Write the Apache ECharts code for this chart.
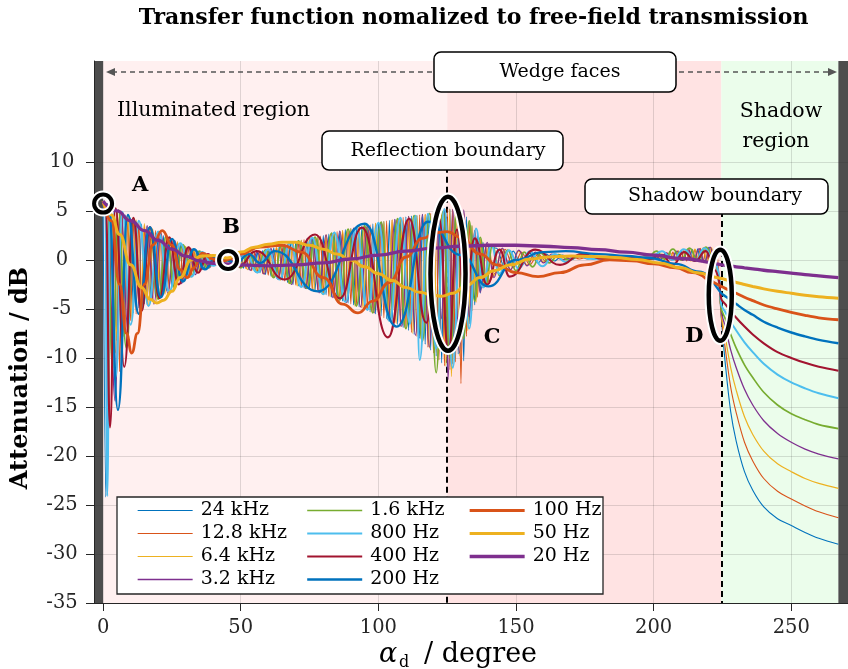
<!DOCTYPE html>
<html>
<head>
<meta charset="utf-8">
<script src="https://cdn.jsdelivr.net/npm/echarts@6.0.0/dist/echarts.min.js"></script>
<style>
html,body{margin:0;padding:0;background:#ffffff;}
#chart{width:848px;height:669px;}
</style>
</head>
<body>
<div id="chart"></div>
<script>
// ---------------- DATA ----------------
const seriesNames = ['24 kHz','12.8 kHz','6.4 kHz','3.2 kHz','1.6 kHz','800 Hz','400 Hz','200 Hz','100 Hz','50 Hz','20 Hz'];
const seriesColors = ['#0072BD','#D95319','#EDB120','#7E2F8E','#77AC30','#4DBEEE','#A2142F','#0072BD','#D95319','#EDB120','#7E2F8E'];
const lineWidths = [1.1,1.1,1.2,1.3,1.7,2.0,2.1,2.4,2.8,3.0,3.3];

const xTicks = [0,50,100,150,200,250];
const yTicks = [-35,-30,-25,-20,-15,-10,-5,0,5,10];

// region limits (degree)
const xMin = -3.3, xMax = 270.6;
const reflectionBoundary = 125;
const shadowBoundary = 224.6;
const wedgeFaceEnd = 267.1;

// shared angle grid for the two fastest-oscillating curves
const angDense = [0,1,2,3,4,5,6,7,8,9,10,11,12,13,14,15,16,17,18,19,20,21,22,23,24,25,26,27,28,29,
30,31,32,33,34,35,36,37,38,39,40,41,42,43,44,45,46,47,48,49,50,51,52,53,54,55,56,57,58,59,
60,61,62,63,64,65,66,67,68,69,70,71,72,73,74,75,76,77,78,79,80,81,82,83,84,85,86,87,88,89,
90,91,92,93,94,95,96,97,98,99,100,101,102,103,104,105,106,107,108,109,110,111,112,113,114,115,116,117,118,119,
120,121,122,123,124,125,126,127,128,129,130,131,132,133,134,135,136,137,138,139,140,
143,146,149,152,155,158,161,164,167,170,173,176,179,182,185,188,191,194,197,
200,201,202,203,204,205,206,207,208,209,210,211,212,213,214,215,216,217,218,219,220,221,222,223,224];

const v24k = [5.9,-24.2,5.6,-9.5,5.3,-8.2,4.9,-7.0,4.6,-6.1,
4.3,-5.4,4.0,-4.9,3.7,-4.5,3.4,-4.1,3.1,-3.8,
2.8,-3.4,2.5,-3.1,2.2,-2.7,1.9,-2.3,1.6,-2.0,
1.35,-1.7,1.15,-1.4,0.95,-1.15,0.75,-0.9,0.55,-0.65,
0.38,-0.45,0.28,-0.28,0.1,-0.05,0.1,-0.3,0.28,-0.6,
0.48,-0.85,0.6,-1.0,0.72,-1.15,0.84,-1.3,0.95,-1.5,
1.08,-1.65,1.25,-1.85,1.42,-2.05,1.55,-2.3,1.75,-2.5,
1.88,-2.65,2.0,-2.85,2.15,-2.95,2.25,-3.15,2.38,-3.35,
2.5,-3.55,2.65,-3.8,2.85,-3.95,2.95,-4.2,3.1,-4.4,
3.2,-4.6,3.3,-4.8,3.45,-5.0,3.55,-5.3,3.7,-5.5,
3.8,-5.7,3.95,-6.0,4.05,-6.3,4.15,-6.6,4.3,-6.9,
4.4,-7.2,4.5,-7.6,4.55,-8.0,4.65,-8.6,4.7,-9.2,
4.8,-9.8,4.95,-10.5,5.1,-11.0,5.2,-10.6,5.1,-9.6,
5.0,-10.3,4.4,-6.5,3.5,-4.6,2.5,-3.4,1.8,-2.5,1.4,
1.2,-1.0,0.9,-0.6,0.7,-0.3,0.6,-0.1,0.5,0.0,0.4,0.1,0.3,0.15,0.25,0.15,0.25,0.15,0.3,
0.45,0.1,0.55,0.1,0.65,0.05,0.75,0.05,0.85,0.0,0.95,0.0,1.0,-0.05,1.1,-0.1,1.15,-0.15,1.25,-0.2,1.3,-0.4,1.1,-1.5,-3.5];

const v12k8 = [5.9,5.7,-16,5.4,-10,5.1,-11.4,4.8,-7.0,4.5,
-6.2,4.2,-5.5,3.9,-5.0,3.6,-4.6,3.3,-4.2,3.0,
-3.8,2.7,-3.4,2.4,-3.0,2.1,-2.6,1.8,-2.2,1.5,
-1.9,1.25,-1.6,1.05,-1.3,0.85,-1.0,0.65,-0.75,0.45,
-0.55,0.3,-0.35,0.18,-0.15,0.02,-0.15,0.18,-0.45,0.38,
-0.75,0.52,-0.9,0.65,-1.1,0.78,-1.25,0.9,-1.4,1.0,
-1.55,1.15,-1.75,1.3,-1.95,1.48,-2.15,1.62,-2.4,1.8,
-2.55,1.95,-2.75,2.08,-2.9,2.2,-3.05,2.3,-3.25,2.45,
-3.45,2.55,-3.7,2.75,-3.9,2.9,-4.1,3.0,-4.3,3.15,
-4.5,3.25,-4.7,3.4,-4.9,3.5,-5.1,3.6,-5.4,3.75,
-5.6,3.85,-5.9,4.0,-6.2,4.1,-6.4,4.2,-6.8,4.35,
-7.0,4.45,-7.4,4.5,-7.8,4.6,-8.3,4.65,-8.9,4.75,
-9.5,4.9,-10.2,5.0,-10.8,5.2,-11.2,5.15,-10.4,5.05,
-12.6,4.7,-7.8,4.0,-5.2,3.0,-3.8,2.1,-2.8,1.6,-2.2,
-1.2,1.1,-0.8,0.8,-0.5,0.6,-0.2,0.5,0.0,0.4,0.1,0.3,0.15,0.25,0.15,0.25,0.15,0.25,0.1,
0.05,0.5,0.05,0.6,0.0,0.7,0.0,0.8,-0.05,0.9,-0.05,0.95,-0.1,1.05,-0.1,1.1,-0.15,1.2,-0.2,1.25,-0.3,1.2,-0.6,0.6,-3.0];

// [angle, dB] pairs
const s6k4 = [[0,5.9],[0.8,5.7],[1.8,-18.6],[3,5.4],[4.5,-9.5],[6,5.0],[7.5,-7.8],[9,4.6],[10.5,-6.3],[12,4.1],[13.5,-5.3],[15,3.7],[16.5,-4.7],[18,3.2],[19.5,-4.2],[21,2.75],[22.5,-3.5],[24,2.3],[25.5,-2.9],[27,1.85],[28.5,-2.3],[30,1.4],[31.5,-1.8],[33,1.1],[34.5,-1.3],[36,0.8],[37.5,-0.9],[39,0.5],[40.5,-0.55],[42,0.3],[43.5,-0.25],[45,0.05],[46.5,-0.3],[48,0.3],[49.5,-0.7],[51,0.55],[52.5,-1.0],[54,0.7],[55.5,-1.2],[57,0.9],[58.5,-1.45],[60,1.1],[61.5,-1.75],[63,1.3],[64.5,-2.05],[66,1.55],[67.5,-2.4],[69,1.8],[70.5,-2.65],[72,2.0],[73.5,-2.9],[75,2.2],[76.5,-3.2],[78,2.35],[79.5,-3.45],[81,2.55],[82.5,-3.75],[84,2.8],[85.5,-4.0],[87,3.0],[88.5,-4.35],[90,3.2],[91.5,-4.7],[93,3.4],[94.5,-4.95],[96,3.55],[97.5,-5.3],[99,3.75],[100.5,-5.65],[102,3.95],[103.5,-6.1],[105,4.1],[106.5,-6.5],[108,4.3],[109.5,-6.9],[111,4.45],[112.5,-7.5],[114,4.55],[115.5,-8.1],[117,4.65],[118.5,-9.0],[120,4.8],[121.5,-9.9],[123,5.0],[124.5,-10.8],[126,5.2],[126.5,-11.9],[128,5.1],[129.5,-9.8],[131,4.7],[132.5,-7.2],[134,3.5],[135.5,-4.3],[137,2.1],[138.5,-2.8],[140,1.4],[142,-1.6],[145,1.1],[148,-1.0],[151,0.9],[154,-0.5],[157,0.7],[160,-0.2],[164,0.5],[168,0.0],[173,0.35],[180,0.2],[190,0.25],[198,0.2],[200,0.5],[201.5,0.05],[203,0.6],[204.5,0.05],[206,0.75],[207.5,0.0],[209,0.9],[210.5,-0.05],[212,1.0],[213.5,-0.1],[215,1.1],[216.5,-0.15],[218,1.2],[219.5,-0.25],[221,1.25],[222.5,-0.8],[224,-2.8]];

const s3k2 = [[0,6.0],[1.5,5.6],[4.4,-14.4],[6.5,5.0],[9,-7.2],[11,4.3],[13.5,-5.5],[16,3.5],[18.5,-4.5],[21,2.75],[23.5,-3.4],[26,2.0],[28.5,-2.4],[31,1.3],[33.5,-1.5],[36,0.8],[38.5,-0.8],[41,0.35],[43.5,-0.25],[46,0.1],[48.5,-0.55],[51,0.55],[53.5,-1.05],[56,0.85],[58.5,-1.45],[61,1.15],[63.5,-1.95],[66,1.55],[68.5,-2.5],[71,1.95],[73.5,-2.9],[76,2.25],[78.5,-3.35],[81,2.55],[83.5,-3.85],[86,2.95],[88.5,-4.35],[91,3.25],[93.5,-4.8],[96,3.55],[98.5,-5.4],[101,3.85],[103.5,-6.1],[106,4.15],[108.5,-6.8],[111,4.45],[113.5,-7.7],[116,4.65],[118.5,-8.9],[121,4.9],[123,-6.0],[124.3,5.1],[125.3,-12.2],[127,5.15],[129.5,-9.5],[131,5.1],[133,-5.8],[135,3.0],[137,-3.3],[139.5,1.8],[142,-1.8],[145,1.2],[148,-1.0],[151,1.0],[154,-0.6],[157,0.8],[160,-0.3],[163,0.6],[167,0.0],[172,0.35],[180,0.2],[190,0.2],[198,0.25],[200.5,0.6],[202.5,0.05],[204.5,0.75],[206.5,0.0],[208.5,0.9],[210.5,-0.05],[212.5,1.05],[214.5,-0.1],[216.5,1.15],[218.5,-0.2],[220.5,1.3],[222.5,-0.5],[224,-2.5]];

const s1k6 = [[0,6.0],[1.5,5.7],[3.5,-11],[5.5,5.1],[8.5,-9.0],[11,4.3],[14,-5.1],[17,3.35],[20,-4.0],[23,2.45],[26,-2.8],[29,1.55],[32,-1.7],[35,0.9],[38,-0.8],[41,0.35],[44,-0.2],[47,0.2],[50,-0.8],[53,0.68],[56,-1.28],[59,1.04],[62,-1.8],[65,1.5],[68,-2.4],[71,1.96],[74,-2.9],[77,2.32],[80,-3.5],[83,2.75],[86,-4.1],[89,3.15],[92,-4.7],[95,3.5],[98,-5.4],[101,3.86],[104,-6.2],[107,4.22],[110,-7.0],[113,4.52],[116,-8.3],[118.5,4.75],[121,-11.5],[123.5,5.0],[126,-10],[128.5,5.1],[131,-8],[133,4.0],[135,-4.2],[137,2.3],[139,-2.6],[141.5,1.5],[144,-1.6],[147,1.0],[150,-1.1],[153,0.8],[156,-0.7],[159,0.7],[162,-0.3],[165.5,0.55],[169,0.0],[173,0.4],[178,0.2],[185,0.3],[192,0.2],[198,0.3],[201,0.9],[204,0.1],[207,1.1],[210,0.0],[213,1.2],[216,0.0],[219,1.3],[222,-0.3],[224,-2.2]];

const s800 = [[0,6.0],[0.8,5.5],[1.5,-24.1],[2.5,5.5],[4.5,-12],[7,4.9],[10,-6.6],[13,4.0],[16.5,-4.7],[20,2.9],[24,-3.2],[28,1.7],[32,-1.7],[36,0.8],[40,-0.6],[44,0.1],[48,-0.5],[52,0.62],[56,-1.28],[60,1.1],[64,-2.0],[68,1.74],[72,-2.75],[76,2.26],[80,-3.5],[84,2.8],[88,-4.3],[92,3.3],[96,-5.1],[100,3.8],[104,-6.2],[108,4.3],[111.5,-6.5],[113.5,4.5],[115,-10.2],[118,4.7],[121,-9],[124,5.2],[127,-11],[130,4.9],[133,-7.0],[135.5,3.2],[138,-2.8],[141,1.5],[144,-1.4],[147.5,1.0],[151,-0.9],[155,0.9],[159.5,-0.65],[164,0.6],[168,-0.2],[172,0.4],[178,0.1],[186,0.3],[194,0.1],[199,0.3],[203,0.9],[207,0.0],[211,1.1],[215,-0.1],[218.5,1.2],[221.5,0.2],[224,-2.0]];

const s400 = [[0,6.0],[1,5.5],[2.5,-17.1],[4.5,5.3],[7.7,-10.9],[11,4.3],[14,-5.2],[17,3.35],[20.5,-3.9],[24,2.3],[27.5,-2.5],[31,1.3],[34.5,-1.3],[38,0.6],[41.5,-0.45],[45,0.0],[49,-0.7],[55.7,0.9],[66,-2.0],[77,2.6],[86,-3.9],[94,3.3],[103.5,-7.9],[111.2,4.2],[117.4,-6.4],[122,4.3],[125.5,-9.5],[128.5,3.1],[131.5,-4.5],[135,2.2],[139.5,-2.5],[144,1.05],[147.7,-1.7],[157,1.05],[166,-0.5],[174,0.6],[182,0.1],[190,0.3],[198,0.1],[203,0.5],[207,-0.5],[211,0.8],[215,-0.1],[219,0.9],[222,-1.0],[224,-2.5]];

const s200 = [[0,6.0],[2,5.6],[5.4,-15.3],[9,4.6],[13,-5.5],[17,3.35],[21,-3.8],[25,2.15],[29,-2.2],[33,1.1],[37,-0.95],[41,0.35],[45,0.0],[48,-0.4],[53,0.6],[57,-0.3],[62.4,0.9],[78,-3.2],[95,3.7],[106.6,-6.8],[118,3.9],[130,0.5],[140,-2.7],[150,0.0],[160,0.8],[168,0.9],[180,0.6],[190,0.4],[198.5,0.2],[208,-0.4],[216.6,-1.2],[221,-2.0]];

const s100 = [[0,6.0],[3,4.0],[6,-2.5],[8.5,-7.5],[10.4,-9.5],[12.5,-7.5],[15,-2.5],[18,1.5],[21.5,3.0],[25,1.5],[28,-1.0],[30.5,-1.8],[33,-0.8],[36,0.7],[40,0.1],[43,-0.2],[45,0.0],[50,0.6],[57,1.3],[65,1.5],[72,0.8],[80,-1.8],[87,-4.5],[92.6,-5.4],[98,-4.2],[104,-2.3],[110,0.3],[116,2.2],[121,2.8],[125,2.9],[130,2.3],[137,0.6],[143,-0.5],[150,-1.3],[158,-1.7],[166,-1.3],[175,-0.5],[184,0.0],[192,-0.1],[200,-0.4],[208,-0.8],[214,-1.3],[219,-1.9]];

const s50 = [[0,6.0],[3,4.6],[6,2.6],[10,-0.5],[14,-2.8],[17,-4.0],[19.5,-4.4],[22,-4.1],[25,-3.2],[28,-1.8],[32,0.0],[36,0.4],[40,0.45],[45,0.2],[50,0.8],[55,1.3],[60,1.6],[65,1.8],[70,1.8],[75,1.5],[80,1.1],[85,0.6],[90,0.0],[95,-0.7],[100,-1.4],[105,-2.1],[110,-2.8],[115,-3.3],[120,-3.6],[123,-3.7],[127,-3.4],[132,-2.6],[137,-1.8],[142,-1.1],[148,-0.5],[155,0.1],[162,0.3],[170,0.4],[178,0.35],[186,0.25],[194,0.05],[202,-0.3],[210,-0.8],[216,-1.3],[220,-1.6]];

const s20 = [[0,6.0],[5,5.0],[10,4.0],[15,3.0],[20,2.0],[25,1.1],[30,0.4],[35,-0.1],[40,-0.35],[45,-0.4],[50,-0.5],[60,-0.6],[70,-0.5],[80,-0.3],[90,0.1],[100,0.5],[110,0.9],[120,1.2],[130,1.4],[140,1.5],[150,1.5],[160,1.4],[170,1.25],[180,1.05],[190,0.8],[200,0.5],[210,0.15],[218,-0.15]];

// shadow region (angles shared, one value list per frequency)
const angShadow = [224.6,226,228,230,233,236,240,245,250,255,260,267.1];
const sh24k  = [-6.0,-10.5,-15.5,-18.5,-21.6,-23.5,-25.2,-26.4,-27.1,-27.8,-28.4,-29.0];
const sh12k8 = [-5.8,-9.0,-13.0,-15.6,-18.6,-20.5,-22.3,-23.6,-24.4,-25.1,-25.7,-26.3];
const sh6k4  = [-5.6,-7.8,-11.0,-13.3,-16.0,-17.8,-19.5,-20.8,-21.6,-22.3,-22.8,-23.3];
const sh3k2  = [-5.3,-6.8,-9.2,-11.0,-13.2,-14.8,-16.4,-17.7,-18.6,-19.3,-19.8,-20.3];
const sh1k6  = [-5.0,-6.0,-7.6,-9.0,-10.7,-12.0,-13.5,-14.8,-15.7,-16.3,-16.8,-17.2];
const sh800  = [-4.6,-5.3,-6.3,-7.2,-8.4,-9.4,-10.6,-11.7,-12.5,-13.1,-13.6,-14.1];
const sh400  = [-4.0,-4.5,-5.2,-5.9,-6.8,-7.6,-8.5,-9.4,-10.0,-10.5,-10.9,-11.3];
const sh200  = [-3.4,-3.7,-4.1,-4.5,-5.1,-5.6,-6.3,-6.9,-7.4,-7.8,-8.15,-8.5];
const sh100  = [-2.7,-2.9,-3.15,-3.4,-3.8,-4.15,-4.6,-5.0,-5.35,-5.65,-5.9,-6.1];
const sh50   = [-1.9,-2.0,-2.15,-2.3,-2.5,-2.7,-2.95,-3.2,-3.4,-3.6,-3.75,-3.9];
const sh20   = [-0.5,-0.55,-0.62,-0.7,-0.8,-0.9,-1.05,-1.2,-1.35,-1.5,-1.62,-1.8];

// annotated points (data coordinates)
const ptA = [0, 5.75], ptB = [45.4, 0.0], ptC = [125.3, -1.4], ptD = [224.2, -3.6];

// ---------------- BUILD ----------------
function zip(a, v) { const n = Math.min(a.length, v.length); const o = []; for (let i = 0; i < n; i++) o.push([a[i], v[i]]); return o; }
const mainParts = [zip(angDense, v24k), zip(angDense, v12k8), s6k4, s3k2, s1k6, s800, s400, s200, s100, s50, s20];
const shadowParts = [sh24k, sh12k8, sh6k4, sh3k2, sh1k6, sh800, sh400, sh200, sh100, sh50, sh20];

const FONT = '"DejaVu Serif"';
const series = [];
seriesNames.forEach((name, i) => {
  const main = mainParts[i];
  const common = {
    type: 'line', name, symbol: 'none', showSymbol: false,
    lineStyle: { color: seriesColors[i], width: lineWidths[i] },
    itemStyle: { color: seriesColors[i] }, z: 2, silent: true, animation: false
  };
  series.push(Object.assign({}, common, { data: main, smooth: i < 2 ? 0.3 : (i < 4 ? 0.4 : 0.5), smoothMonotone: 'x' }));
  // shadow-zone continuation drawn as a smooth curve from the last lit point
  series.push(Object.assign({}, common, { data: [main[main.length - 1]].concat(zip(angShadow, shadowParts[i])), smooth: 0.35 }));
});

series[0].markArea = {
  silent: true, z: 0,
  label: { show: false },
  data: [
    [{ xAxis: xMin, itemStyle: { color: '#4D4D4D' } }, { xAxis: 0 }],
    [{ xAxis: 0, itemStyle: { color: '#FFF0F0' } }, { xAxis: reflectionBoundary }],
    [{ xAxis: reflectionBoundary, itemStyle: { color: '#FFE3E3' } }, { xAxis: shadowBoundary }],
    [{ xAxis: shadowBoundary, itemStyle: { color: '#EBFDEB' } }, { xAxis: wedgeFaceEnd }],
    [{ xAxis: wedgeFaceEnd, itemStyle: { color: '#4D4D4D' } }, { xAxis: xMax }]
  ]
};
series[0].markLine = {
  silent: true, z: 1.5, symbol: ['none', 'none'],
  label: { show: false },
  lineStyle: { color: '#000', width: 2, type: [6, 4] },
  data: [
    [{ coord: [reflectionBoundary, 9.5] }, { coord: [reflectionBoundary, -35] }],
    [{ coord: [shadowBoundary, 5.0] }, { coord: [shadowBoundary, -35] }]
  ]
};

const gridColor = 'rgba(38,38,38,0.15)';
const yGridColors = [gridColor,gridColor,gridColor,gridColor,gridColor,gridColor,gridColor,gridColor,gridColor,gridColor,'rgba(0,0,0,0)','rgba(0,0,0,0)','rgba(0,0,0,0)'];

const legendCols = [[0,1,2,3],[4,5,6,7],[8,9,10]];
const legendLeft = [137, 306, 468];
const legends = legendCols.map((col, k) => ({
  orient: 'vertical', left: legendLeft[k], top: 500, padding: 0,
  itemWidth: 55, itemHeight: 14, itemGap: 2,
  selectedMode: false, z: 20,
  itemStyle: { opacity: 0 },
  textStyle: { fontFamily: FONT, fontSize: 19, color: '#000', lineHeight: 21, padding: [0, 0, 0, 3] },
  data: col.map(i => ({ name: seriesNames[i], lineStyle: { width: lineWidths[i], color: seriesColors[i] } }))
}));

const option = {
  animation: false,
  backgroundColor: '#ffffff',
  grid: { left: 94, right: 0, top: 61, bottom: 66, containLabel: false },
  xAxis: {
    type: 'value', min: xMin, max: xMax, z: 1,
    axisLine: { show: true, onZero: false, lineStyle: { color: '#262626', width: 1 } },
    axisTick: { show: true, length: 8, customValues: xTicks, lineStyle: { color: '#262626' } },
    axisLabel: { customValues: xTicks, margin: 15,
      fontFamily: FONT, fontSize: 19.5, color: '#262626',
      formatter: v => (xTicks.indexOf(v) >= 0 ? String(v) : '') },
    splitLine: { show: true, lineStyle: { color: gridColor, width: 1 } }
  },
  yAxis: {
    type: 'value', min: -35, max: 20.3, interval: 5, z: 1,
    axisLine: { show: true, onZero: false, lineStyle: { color: '#262626', width: 1 } },
    axisTick: { show: true, length: 8, customValues: yTicks, lineStyle: { color: '#262626' } },
    axisLabel: { customValues: yTicks, margin: 32, align: 'center',
      fontFamily: FONT, fontSize: 19.5, color: '#262626',
      formatter: v => (v <= 10 ? String(v) : '') },
    splitLine: { show: true, lineStyle: { color: yGridColors, width: 1 } }
  },
  legend: legends,
  series
};

const chart = echarts.init(document.getElementById('chart'), null, { renderer: 'canvas' });
chart.setOption(option);

// ---------------- ANNOTATIONS ----------------
const px = p => chart.convertToPixel({ xAxisIndex: 0, yAxisIndex: 0 }, p);
function txt(text, x, y, size, o) {
  o = o || {};
  return { type: 'text', x, y, z: o.z || 12, silent: true, rotation: o.rot || 0,
    style: { text, font: (o.italic ? 'italic ' : '') + (o.bold ? 'bold ' : '') + size + 'px ' + FONT,
      fill: o.fill || '#000', align: o.align || 'center', verticalAlign: 'middle' } };
}
function box(x, y, w, h) {
  return { type: 'rect', z: 11, silent: true, shape: { x, y, width: w, height: h, r: 7 },
    style: { fill: '#fff', stroke: '#000', lineWidth: 1.5 } };
}
function ring(c, rx, ry, lw) {
  return [
    { type: 'ellipse', z: 13, silent: true, shape: { cx: c[0], cy: c[1], rx, ry }, style: { fill: 'none', stroke: '#fff', lineWidth: lw + 4 } },
    { type: 'ellipse', z: 14, silent: true, shape: { cx: c[0], cy: c[1], rx, ry }, style: { fill: 'none', stroke: '#000', lineWidth: lw } }
  ];
}
const g = [];
// title
g.push(txt('Transfer function nomalized to free-field transmission', 473.5, 18, 22, { bold: true }));
// wedge faces arrow
g.push({ type: 'line', z: 10, silent: true, shape: { x1: 112, y1: 72, x2: 831, y2: 72 }, style: { stroke: '#555', lineWidth: 1.5, lineDash: [5, 4] } });
g.push({ type: 'polygon', z: 10, silent: true, shape: { points: [[106, 72], [115, 68], [115, 76]] }, style: { fill: '#555' } });
g.push({ type: 'polygon', z: 10, silent: true, shape: { points: [[837, 72], [828, 68], [828, 76]] }, style: { fill: '#555' } });
g.push(box(434, 52, 242, 40));
g.push(txt('Wedge faces', 560, 72, 19));
// region labels
g.push(txt('Illuminated region', 117, 111, 20.5, { align: 'left' }));
g.push(txt('Shadow', 781, 112, 20.5));
g.push(txt('region', 776, 142, 20.5));
// boundary boxes
g.push(box(322, 131, 241, 39));
g.push(txt('Reflection boundary', 448, 151, 19));
g.push(box(585, 179, 243, 35));
g.push(txt('Shadow boundary', 715, 196, 19));
// legend frame
g.push({ type: 'rect', z: 3, silent: true, shape: { x: 117, y: 497, width: 486, height: 97 }, style: { fill: '#fff', stroke: '#262626', lineWidth: 1.3 } });
// axis names
g.push(txt('Attenuation / dB', 21, 378, 24, { bold: true, rot: Math.PI / 2 }));
g.push(txt('α', 388, 655, 27, { italic: true }));
g.push(txt('d', 404, 663, 16));
g.push(txt('/ degree', 424, 655, 27, { align: 'left' }));
// annotation rings and letters
const pA = px(ptA), pB = px(ptB), pC = px(ptC), pD = px(ptD);
g.push(...ring(pA, 9, 9, 4));
g.push(...ring(pB, 9, 9, 4));
g.push(...ring(pC, 17.5, 77, 4.5));
g.push(...ring(pD, 11.5, 45.5, 4.5));
g.push(txt('A', pA[0] + 37, pA[1] - 18, 21, { bold: true }));
g.push(txt('B', pB[0] + 3, pB[1] - 32, 21, { bold: true }));
g.push(txt('C', pC[0] + 44, pC[1] + 64, 21, { bold: true }));
g.push(txt('D', pD[0] - 26, pD[1] + 41, 21, { bold: true }));
chart.setOption({ graphic: g });
</script>
</body>
</html>
